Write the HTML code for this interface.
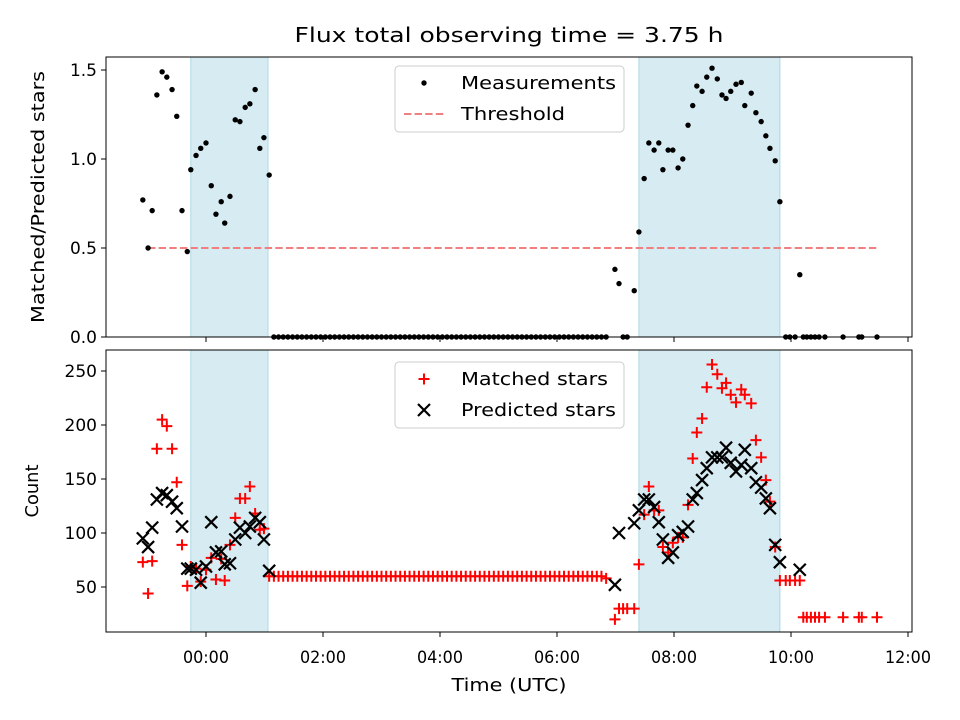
<!DOCTYPE html>
<html><head><meta charset="utf-8"><style>
body{margin:0;background:#fff}
svg{display:block;font-family:"DejaVu Sans","Liberation Sans",sans-serif}
</style></head><body>
<svg id="chart" width="960" height="720" viewBox="0 0 960 720">
<text x="509" y="42" font-size="20" text-anchor="middle" textLength="429" lengthAdjust="spacingAndGlyphs">Flux total observing time = 3.75 h</text>
<g id="top"></g><g id="bot"></g>
</svg>
<script>
const timesA=[-1.08,-0.99,-0.92,-0.84,-0.75,-0.67,-0.58,-0.50,-0.41,-0.32,-0.26,-0.17,-0.09,0,0.09,0.17,0.26,0.32,0.41,0.50,0.58,0.67,0.75,0.84,0.92,0.99,1.08];
const fluxA=[0.77,0.50,0.71,1.36,1.49,1.46,1.39,1.24,0.71,0.48,0.94,1.02,1.06,1.09,0.85,0.69,0.76,0.64,0.79,1.22,1.21,1.29,1.31,1.39,1.06,1.12,0.91];
const matchedA=[73,44,74,178,205,199,178,147,89,51,69,67,55,66,77,57,76,56,89,114,132,132,143,118,103,104,60];
const predictedA=[95,87,105,131,137,135,129,123,106,67,67,66,54,69,110,82,83,71,72,94,105,100,106,114,110,94,65];
const timesB=[1.16,1.24,1.32,1.40,1.48,1.56,1.64,1.72,1.80,1.88,1.96,2.04,2.12,2.20,2.28,2.36,2.44,2.52,2.60,2.68,2.76,2.84,2.92,3.00,3.08,3.16,3.24,3.32,3.40,3.48,3.56,3.64,3.72,3.80,3.88,3.96,4.04,4.12,4.20,4.28,4.36,4.44,4.52,4.60,4.68,4.76,4.84,4.92,5.00,5.08,5.16,5.24,5.32,5.40,5.48,5.56,5.64,5.72,5.80,5.88,5.96,6.04,6.12,6.20,6.28,6.36,6.44,6.52,6.60,6.68,6.76,6.84];
const fluxB=[0,0,0,0,0,0,0,0,0,0,0,0,0,0,0,0,0,0,0,0,0,0,0,0,0,0,0,0,0,0,0,0,0,0,0,0,0,0,0,0,0,0,0,0,0,0,0,0,0,0,0,0,0,0,0,0,0,0,0,0,0,0,0,0,0,0,0,0,0,0,0,0];
const matchedB=[60,60,60,60,60,60,60,60,60,60,60,60,60,60,60,60,60,60,60,60,60,60,60,60,60,60,60,60,60,60,60,60,60,60,60,60,60,60,60,60,60,60,60,60,60,60,60,60,60,60,60,60,60,60,60,60,60,60,60,60,60,60,60,60,60,60,60,60,60,60,60,58];
const timesC=[6.99,7.06,7.13,7.20,7.32,7.40,7.49,7.57,7.66,7.74,7.81,7.90,7.98,8.07,8.15,8.24,8.32,8.39,8.48,8.56,8.65,8.74,8.82,8.89,8.97,9.06,9.15,9.21,9.32,9.40,9.49,9.57,9.64,9.73,9.81];
const fluxC=[0.38,0.30,0,0,0.26,0.59,0.89,1.09,1.05,1.09,0.94,1.05,1.05,0.95,1.00,1.19,1.30,1.41,1.38,1.46,1.51,1.45,1.36,1.34,1.38,1.42,1.43,1.30,1.37,1.26,1.21,1.13,1.06,0.99,0.76];
const matchedC=[20,30,30,30,30,71,117,143,121,121,87,82,91,96,96,126,169,193,206,235,256,247,234,239,228,221,233,228,220,186,170,149,129,87,56];
const predictedC=[52,100,null,null,109,121,131,131,124,110,94,77,82,98,101,106,131,137,149,160,170,170,170,179,165,157,163,177,160,147,142,132,123,89,73];
const timesD=[9.91,9.98,10.07,10.15,10.21,10.27,10.34,10.41,10.48,10.58,10.89,11.16,11.21,11.47];
const fluxD=[0,0,0,0.35,0,0,0,0,0,0,0,0,0,0];
const matchedD=[56,56,56,56,22,22,22,22,22,22,22,22,22,22];
const predictedD=[null,null,null,66,null,null,null,null,null,null,null,null,null,null];
const shadeStart=[-0.26,7.40];
const shadeEnd=[1.06,9.81];
const threshold=0.5;
const xTicks=[0,2,4,6,8,10,12];
const xTickLabels=["00:00","02:00","04:00","06:00","08:00","10:00","12:00"];
const yTopTicks=[0,0.5,1.0,1.5];
const yTopLabels=["0.0","0.5","1.0","1.5"];
const yBotTicks=[50,100,150,200,250];
const yBotLabels=["50","100","150","200","250"];

const NS="http://www.w3.org/2000/svg";
const L=106,R=912,T1=57,B1=337,T2=350,B2=632;
const xs=h=>206+58.5*h;
const yTop=v=>337-178*v;
const yBot=v=>641-1.08*v;
function mk(p,tag,at){const e=document.createElementNS(NS,tag);for(const k in at)e.setAttribute(k,at[k]);p.appendChild(e);return e;}
const times=[...timesA,...timesB,...timesC,...timesD];
const flux=[...fluxA,...fluxB,...fluxC,...fluxD];
const matched=[...matchedA,...matchedB,...matchedC,...matchedD];
const predicted=[...predictedA,...timesB.map(()=>null),...predictedC,...predictedD];

function axes(g,T,B,name){
  for(let i=0;i<shadeStart.length;i++){
    const r=mk(g,'rect',{x:xs(shadeStart[i]),y:T,width:xs(shadeEnd[i])-xs(shadeStart[i]),height:B-T,fill:'#add8e6','fill-opacity':0.5,stroke:'#add8e6','stroke-width':1});
    
    
  }
  xTicks.forEach((t,i)=>{
    const tk=mk(g,'line',{x1:xs(t),x2:xs(t),y1:B,y2:B+5,stroke:'#000','stroke-width':1});
    
    
    if(name==='bottom'){
      const tx=mk(g,'text',{x:xs(t),y:B+31,'font-size':17,'text-anchor':'middle',textLength:46,lengthAdjust:'spacingAndGlyphs'});tx.textContent=xTickLabels[i];
      
      
    }
  });
}
function frame(g,T,B,name){
  const f=mk(g,'rect',{x:L,y:T,width:R-L,height:B-T,fill:'none',stroke:'#000','stroke-width':1});
  
  
}
function yAxis(g,ticks,labels,ys,name){
  ticks.forEach((t,i)=>{
    mk(g,'line',{x1:L-5,x2:L,y1:ys(t),y2:ys(t),stroke:'#000'});
    const tx=mk(g,'text',{x:L-9,y:ys(t)+6,'font-size':17,'text-anchor':'end'});tx.textContent=labels[i];
    
    
  });
}
const gt=document.getElementById('top'),gb=document.getElementById('bot');
axes(gt,T1,B1,'top');axes(gb,T2,B2,'bottom');
const th=mk(gt,'line',{x1:xs(timesA[1]),x2:xs(timesD[timesD.length-1]),y1:yTop(threshold),y2:yTop(threshold),stroke:'#f08080','stroke-width':2,'stroke-dasharray':'7.4,3.2'});


times.forEach((t,i)=>{
  const c=mk(gt,'circle',{cx:xs(t),cy:yTop(flux[i]),r:2.7,fill:'#000'});
  
  
});
times.forEach((t,i)=>{
  const x=xs(t),y=yBot(matched[i]);
  const p=mk(gb,'path',{d:`M${x-5.5},${y}H${x+5.5}M${x},${y-5.5}V${y+5.5}`,stroke:'#ff0000','stroke-width':2});
  
  
});
times.forEach((t,i)=>{
  if(predicted[i]===null)return;
  const x=xs(t),y=yBot(predicted[i]),s=6;
  const p=mk(gb,'path',{d:`M${x-s},${y-s}L${x+s},${y+s}M${x-s},${y+s}L${x+s},${y-s}`,stroke:'#000','stroke-width':2.2});
  
  
});
frame(gt,T1,B1,'top');frame(gb,T2,B2,'bottom');
yAxis(gt,yTopTicks,yTopLabels,yTop,'top');yAxis(gb,yBotTicks,yBotLabels,yBot,'bottom');
let a=mk(gb,'text',{x:509,y:691,'font-size':18,'text-anchor':'middle',textLength:115,lengthAdjust:'spacingAndGlyphs'});a.textContent='Time (UTC)';


a=mk(gt,'text',{x:0,y:0,'font-size':18,'text-anchor':'middle',textLength:252,lengthAdjust:'spacingAndGlyphs',transform:'translate(44,197) rotate(-90)'});a.textContent='Matched/Predicted stars';


a=mk(gb,'text',{x:0,y:0,'font-size':18,'text-anchor':'middle',textLength:53,lengthAdjust:'spacingAndGlyphs',transform:'translate(38,491) rotate(-90)'});a.textContent='Count';


function legend(g,y0,name,items){
  const b=mk(g,'rect',{x:395,y:y0,width:229,height:66,rx:4,fill:'#fff','fill-opacity':0.8,stroke:'#ccc'});
  
  
  items.forEach((it,i)=>{
    const cy=y0+17+i*31,cx=424;
    if(it.k==='dot')mk(g,'circle',{cx:cx,cy:cy,r:2.7,fill:'#000'});
    if(it.k==='dash')mk(g,'line',{x1:cx-20,x2:cx+20,y1:cy,y2:cy,stroke:'#f08080','stroke-width':2,'stroke-dasharray':'7.4,3.2'});
    if(it.k==='plus')mk(g,'path',{d:`M${cx-5.5},${cy}H${cx+5.5}M${cx},${cy-5.5}V${cy+5.5}`,stroke:'#f00','stroke-width':2});
    if(it.k==='x')mk(g,'path',{d:`M${cx-6},${cy-6}L${cx+6},${cy+6}M${cx-6},${cy+6}L${cx+6},${cy-6}`,stroke:'#000','stroke-width':2.2});
    const t=mk(g,'text',{x:461,y:cy+6,'font-size':18,textLength:it.w,lengthAdjust:'spacingAndGlyphs'});t.textContent=it.t;
    
    
  });
}
legend(gt,66,'top-legend',[{k:'dot',t:'Measurements',w:155},{k:'dash',t:'Threshold',w:104}]);
legend(gb,362,'bottom-legend',[{k:'plus',t:'Matched stars',w:147},{k:'x',t:'Predicted stars',w:155}]);
</script>
</body></html>
